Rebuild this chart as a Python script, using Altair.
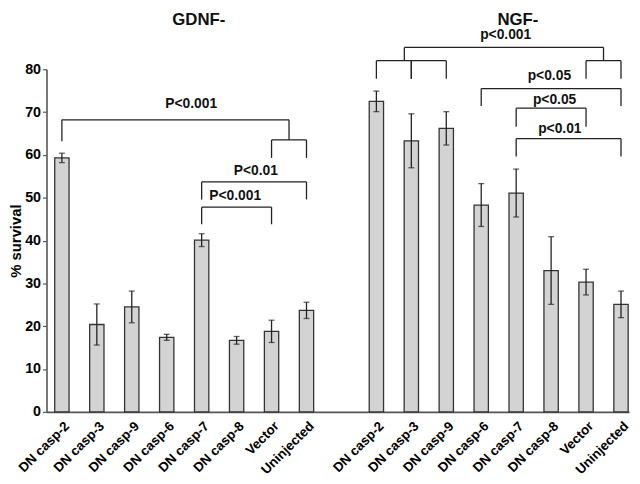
import json
import altair as alt
import pandas as pd

# ---------------- data ----------------
labels = ["DN casp-2", "DN casp-3", "DN casp-9", "DN casp-6",
          "DN casp-7", "DN casp-8", "Vector", "Uninjected"]
gdnf_mean = [59.3, 20.4, 24.5, 17.4, 40.1, 16.7, 18.8, 23.7]
gdnf_err = [1.1, 4.8, 3.7, 0.7, 1.5, 0.9, 2.6, 1.9]
ngf_mean = [72.5, 63.3, 66.2, 48.3, 51.1, 33.0, 30.3, 25.1]
ngf_err = [2.4, 6.3, 3.9, 5.0, 5.6, 7.9, 3.0, 3.1]

group_titles = ["GDNF-", "NGF-"]

# significance brackets: (left slot, right slot, bar level, left leg end, right leg end)
bracket_spans = [
    (0, 6.5, 68.2, 63.2, 63.5),
    (6, 7, 63.5, 59.3, 59.3),
    (4, 7, 53.7, 49.6, 49.6),
    (4, 6, 47.8, 43.8, 43.8),
    (9.8, 15.5, 85.1, 82.0, 82.0),
    (9, 10, 82.0, 77.8, 77.8),
    (10, 11, 82.0, 77.8, 77.8),
    (15, 16, 82.0, 77.8, 77.8),
    (12, 16, 75.5, 71.4, 71.4),
    (13, 15, 70.9, 66.6, 66.6),
    (13, 16, 63.8, 59.6, 59.6),
]
bracket_text = ["P<0.001", "P<0.01", "P<0.001", "p<0.001", "p<0.05", "p<0.05", "p<0.01"]
bracket_text_x = [3.7, 5.55, 4.96, 12.7, 13.95, 14.1, 14.25]
bracket_text_y = [71.8, 56.3, 50.5, 87.9, 78.4, 72.8, 66.1]

title_x = [3.92, 13.05]
title_y = [93.4, 93.4]

# ---------------- tables ----------------
rows = []
for i, lab in enumerate(labels):
    rows.append({"pos": i, "label": lab, "mean": gdnf_mean[i], "err": gdnf_err[i]})
for i, lab in enumerate(labels):
    rows.append({"pos": i + 9, "label": lab, "mean": ngf_mean[i], "err": ngf_err[i]})
bars = pd.DataFrame(rows)

segs = []
for (xl, xr, y, yl, yr) in bracket_spans:
    segs.append({"x": xl, "x2": xr, "y": y, "y2": y})
    segs.append({"x": xl, "x2": xl, "y": y, "y2": yl})
    segs.append({"x": xr, "x2": xr, "y": y, "y2": yr})
segdf = pd.DataFrame(segs)

txtdf = pd.DataFrame({"t": bracket_text, "x": bracket_text_x, "y": bracket_text_y})
ttldf = pd.DataFrame({"t": group_titles, "x": title_x, "y": title_y})

# ---------------- scales / axes ----------------
FONT = "Liberation Sans"
xscale = alt.Scale(domain=[-0.44, 16.23], nice=False, zero=False)
yscale = alt.Scale(domain=[0, 80], nice=False)

label_js = json.dumps(labels)
xaxis = alt.Axis(
    values=list(range(0, 8)) + list(range(9, 17)),
    labelExpr=f"{label_js}[datum.value % 9]",
    labelAngle=-45, labelAlign="right", labelBaseline="top",
    labelFont=FONT, labelFontSize=13.5, labelFontWeight="bold", labelColor="#000000",
    labelPadding=7, ticks=False, tickSize=0, grid=False, title=None,
    domainColor="#555555", domainWidth=1.6, labelOverlap=False, labelBound=False,
)
yaxis = alt.Axis(
    values=list(range(0, 81, 10)), grid=False, title="% survival",
    titleFont=FONT, titleFontSize=15, titleFontWeight="bold", titleColor="#000000",
    titlePadding=1,
    labelFont=FONT, labelFontSize=14.5, labelFontWeight="bold", labelColor="#000000",
    labelPadding=2, tickSize=4, tickColor="#555555", domainColor="#555555",
    domainWidth=1.6, tickWidth=1.2,
)

def X(f):
    return alt.X(f, scale=xscale, axis=xaxis)

def Y(f):
    return alt.Y(f, scale=yscale, axis=yaxis)

base = alt.Chart(bars).transform_calculate(
    x0="datum.pos - 0.205", x1="datum.pos + 0.205", zero="0",
    lo="datum.mean - datum.err", hi="datum.mean + datum.err",
)

bar_layer = base.mark_bar(fill="#d3d3d3", stroke="#333333", strokeWidth=1.3).encode(
    x=X("x0:Q"), x2="x1:Q", y=Y("mean:Q"), y2="zero:Q",
)
err_layer = base.mark_rule(color="#222222", strokeWidth=1.3).encode(
    x=X("pos:Q"), y=Y("lo:Q"), y2="hi:Q",
)
cap_hi = base.mark_tick(color="#222222", orient="horizontal", size=6, thickness=1.3).encode(
    x=X("pos:Q"), y=Y("hi:Q"),
)
cap_lo = base.mark_tick(color="#222222", orient="horizontal", size=6, thickness=1.3).encode(
    x=X("pos:Q"), y=Y("lo:Q"),
)
seg_layer = alt.Chart(segdf).mark_rule(color="#222222", strokeWidth=1.3).encode(
    x=X("x:Q"), x2="x2:Q", y=Y("y:Q"), y2="y2:Q",
)
txt_layer = alt.Chart(txtdf).mark_text(
    font=FONT, fontSize=14, fontWeight="bold", color="#111111", baseline="middle", align="center"
).encode(
    x=X("x:Q"), y=Y("y:Q"), text="t:N",
)
ttl_layer = alt.Chart(ttldf).mark_text(
    font=FONT, fontSize=17, fontWeight="bold", color="#111111", baseline="top", align="center"
).encode(
    x=X("x:Q"), y=Y("y:Q"), text="t:N",
)

chart = alt.layer(
    bar_layer, err_layer, cap_hi, cap_lo, seg_layer, txt_layer, ttl_layer
).properties(
    width=590, height=347,
    autosize=alt.AutoSizeParams(type="none"),
    padding={"left": 39, "top": 59, "right": 3, "bottom": 69},
).configure(background="white", view=alt.ViewConfig(stroke=None))

chart.save("out.html", embed_options={"renderer": "svg", "actions": False})
